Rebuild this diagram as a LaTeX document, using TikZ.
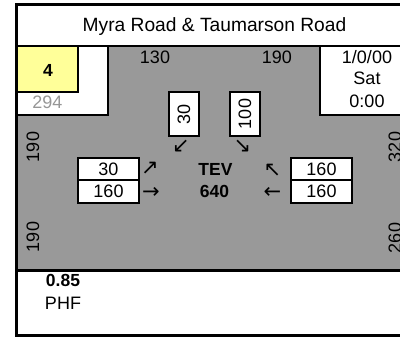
\documentclass[tikz,border=0pt]{standalone}
\usepackage{fontspec}
\setmainfont{Liberation Sans}
\newfontfamily\arrowfont{DejaVu Sans}
\definecolor{bggray}{RGB}{153,153,153}
\definecolor{boxyellow}{RGB}{255,255,153}
\definecolor{txtgray}{RGB}{150,150,150}
\begin{document}
\begin{tikzpicture}[x=1pt,y=-1pt,
  txt/.style={inner sep=0pt,anchor=base,font=\fontsize{18}{21}\selectfont},
  btxt/.style={inner sep=0pt,anchor=base,font=\fontsize{17.5}{20}\selectfont\bfseries},
  rtxt/.style={inner sep=0pt,anchor=center,rotate=90,font=\fontsize{18}{21}\selectfont},
  arr/.style={inner sep=0pt,anchor=center,font=\fontsize{21}{24}\selectfont\arrowfont},
  cell/.style={draw=black,line width=2pt,fill=white}]
\useasboundingbox (0,0) rectangle (400,337);
\clip (0,0) rectangle (400,337);
% background regions
\fill[white] (0,0) rectangle (400,337);
\fill[bggray] (18,46) rectangle (420,270);
% left white box and yellow box
\filldraw[fill=white,draw=black,line width=2pt] (17,46) -- (108,46) -- (108,115) -- (17,115);
\filldraw[fill=boxyellow,draw=black,line width=2pt] (17,46) rectangle (78,92);
% top-right white box
\filldraw[fill=white,draw=black,line width=2pt] (420,46) -- (320,46) -- (320,115) -- (420,115);
% horizontal separators
\draw[line width=2.5pt] (16,46) -- (420,46);
\draw[line width=2.5pt] (16,270.5) -- (420,270.5);
% outer frame
\draw[line width=3pt] (16.5,5) rectangle (430,335.5);
% title
\node[txt,font=\fontsize{19.2}{22}\selectfont] (title) at (214.5,31.5) {Myra Road \& Taumarson Road};
% corner info
\node[btxt] (num) at (48,76.5) {4};
\node[txt,text=txtgray] (tot) at (47.5,109) {294};
\node[txt] (date) at (367,63.5) {1/0/00};
\node[txt] (day) at (367,85) {Sat};
\node[txt] (time) at (367,108) {0:00};
% approach totals
\node[txt] (ntl) at (155,64) {130};
\node[txt] (ntr) at (277,64) {190};
\node[rtxt] (wl1) at (33,147) {190};
\node[rtxt] (wl2) at (33,237) {190};
\node[rtxt] (er1) at (395,147) {320};
\node[rtxt] (er2) at (395,238) {260};
% north movement boxes
\node[cell,minimum width=30pt,minimum height=44pt,inner sep=0pt] (nb1) at (184,114) {};
\node[rtxt] at (nb1.center) {30};
\node[cell,minimum width=30pt,minimum height=44pt,inner sep=0pt] (nb2) at (245,114) {};
\node[rtxt] at (nb2.center) {100};
% west movement boxes
\node[cell,minimum width=61pt,minimum height=22pt,inner sep=0pt] (wb1) at (108.5,169.5) {};
\node[cell,minimum width=61pt,minimum height=23pt,inner sep=0pt] (wb2) at (108.5,192) {};
\node[txt] at (108.5,175.5) {30};
\node[txt] at (108.5,197.5) {160};
% east movement boxes
\node[cell,minimum width=61pt,minimum height=22pt,inner sep=0pt] (eb1) at (321.5,169.5) {};
\node[cell,minimum width=61pt,minimum height=23pt,inner sep=0pt] (eb2) at (321.5,192) {};
\node[txt] at (321.5,175.5) {160};
\node[txt] at (321.5,197.5) {160};
% arrows
\node[arr] (a1) at (181,146.5) {↙};
\node[arr] (a2) at (242.5,146.5) {↘};
\node[arr] (a3) at (150,168.5) {↗};
\node[arr] (a4) at (151,192.5) {→};
\node[arr] (a5) at (272.5,170) {↖};
\node[arr] (a6) at (272.5,193) {←};
% TEV
\node[btxt] (tev) at (215.5,175.5) {TEV};
\node[btxt] (tevn) at (214.5,197.5) {640};
% PHF
\node[btxt] (phf) at (63,286.5) {0.85};
\node[txt] (phfl) at (63,310) {PHF};
\end{tikzpicture}
\end{document}
